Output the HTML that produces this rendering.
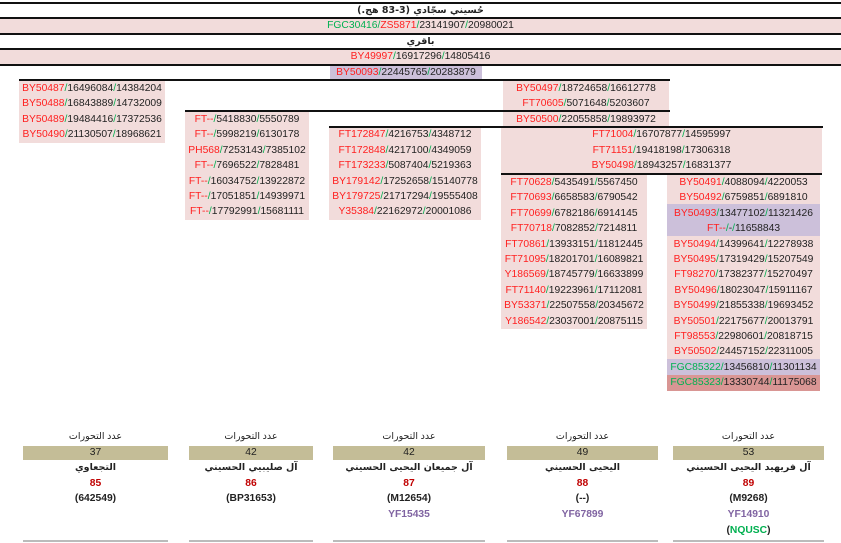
<!DOCTYPE html>
<html><head><meta charset="utf-8"><style>
body{margin:0;width:841px;height:543px;background:#fff;position:relative;overflow:hidden;font-family:"Liberation Sans","DejaVu Sans",sans-serif;font-size:10.3px;color:#222}
.b{position:absolute}
.r{position:absolute;text-align:center;height:15.4px;line-height:15.4px;white-space:nowrap}
.k{color:#ff2020}.g{color:#00b050}.p{color:#8064a2}
.pk{background:#f2dcdb}.pu{background:#ccc0da}.dr{background:#d99694}
.ln{position:absolute;height:2px;background:#111}
.ar{font-family:"DejaVu Sans",sans-serif;font-weight:bold;font-size:9.5px}
.bt{position:absolute;text-align:center;white-space:nowrap}
</style></head><body>
<div class="ln" style="left:0;width:841px;top:2px"></div>
<div class="r ar" style="left:0;width:841px;top:3px">حُسيني سجّادي (3-83 هج.)</div>
<div class="ln" style="left:0;width:841px;top:17px"></div>
<div class="r pk" style="left:0;width:841px;top:19px;height:14px;line-height:14px"><span class="g">FGC30416</span><span class="g">/</span><span class="k">ZS5871</span><span class="g">/</span>23141907<span class="g">/</span>20980021</div>
<div class="ln" style="left:0;width:841px;top:33px"></div>
<div class="r ar" style="left:0;width:841px;top:34px">باقري</div>
<div class="ln" style="left:0;width:841px;top:48px"></div>
<div class="r pk" style="left:0;width:841px;top:50px;height:14px;line-height:14px"><span class="k">BY49997</span><span class="g">/</span>16917296<span class="g">/</span>14805416</div>
<div class="ln" style="left:0;width:841px;top:64px"></div>
<div class="r pu" style="left:330px;width:152px;top:66px;height:14px;line-height:14px"><span class="k">BY50093</span><span class="g">/</span>22445765<span class="g">/</span>20283879</div>
<div class="ln" style="left:19px;width:651px;top:79px"></div>

<div class="b pk" style="left:19px;width:146px;top:81px;height:62px"></div>
<div class="r" style="left:19px;width:146px;top:81px"><span class="k">BY50487</span><span class="g">/</span>16496084<span class="g">/</span>14384204</div>
<div class="r" style="left:19px;width:146px;top:96.4px"><span class="k">BY50488</span><span class="g">/</span>16843889<span class="g">/</span>14732009</div>
<div class="r" style="left:19px;width:146px;top:111.8px"><span class="k">BY50489</span><span class="g">/</span>19484416<span class="g">/</span>17372536</div>
<div class="r" style="left:19px;width:146px;top:127.2px"><span class="k">BY50490</span><span class="g">/</span>21130507<span class="g">/</span>18968621</div>

<div class="b pk" style="left:503px;width:166px;top:81px;height:46px"></div>
<div class="r" style="left:503px;width:166px;top:81px"><span class="k">BY50497</span><span class="g">/</span>18724658<span class="g">/</span>16612778</div>
<div class="r" style="left:503px;width:166px;top:96.4px"><span class="k">FT70605</span><span class="g">/</span>5071648<span class="g">/</span>5203607</div>
<div class="r" style="left:503px;width:166px;top:111.8px"><span class="k">BY50500</span><span class="g">/</span>22055858<span class="g">/</span>19893972</div>
<div class="ln" style="left:185px;width:485px;top:110px"></div>

<div class="b pk" style="left:185px;width:124px;top:112px;height:108px"></div>
<div class="r" style="left:185px;width:124px;top:112px"><span class="k">FT--</span><span class="g">/</span>5418830<span class="g">/</span>5550789</div>
<div class="r" style="left:185px;width:124px;top:127.4px"><span class="k">FT--</span><span class="g">/</span>5998219<span class="g">/</span>6130178</div>
<div class="r" style="left:185px;width:124px;top:142.8px"><span class="k">PH568</span><span class="g">/</span>7253143<span class="g">/</span>7385102</div>
<div class="r" style="left:185px;width:124px;top:158.2px"><span class="k">FT--</span><span class="g">/</span>7696522<span class="g">/</span>7828481</div>
<div class="r" style="left:185px;width:124px;top:173.6px"><span class="k">FT--</span><span class="g">/</span>16034752<span class="g">/</span>13922872</div>
<div class="r" style="left:185px;width:124px;top:189px"><span class="k">FT--</span><span class="g">/</span>17051851<span class="g">/</span>14939971</div>
<div class="r" style="left:185px;width:124px;top:204.4px"><span class="k">FT--</span><span class="g">/</span>17792991<span class="g">/</span>15681111</div>
<div class="ln" style="left:329px;width:494px;top:126px"></div>

<div class="b pk" style="left:329px;width:152px;top:128px;height:92px"></div>
<div class="r" style="left:329px;width:152px;top:127.4px"><span class="k">FT172847</span><span class="g">/</span>4216753<span class="g">/</span>4348712</div>
<div class="r" style="left:329px;width:152px;top:142.8px"><span class="k">FT172848</span><span class="g">/</span>4217100<span class="g">/</span>4349059</div>
<div class="r" style="left:329px;width:152px;top:158.2px"><span class="k">FT173233</span><span class="g">/</span>5087404<span class="g">/</span>5219363</div>
<div class="r" style="left:329px;width:152px;top:173.6px"><span class="k">BY179142</span><span class="g">/</span>17252658<span class="g">/</span>15140778</div>
<div class="r" style="left:329px;width:152px;top:189px"><span class="k">BY179725</span><span class="g">/</span>21717294<span class="g">/</span>19555408</div>
<div class="r" style="left:329px;width:152px;top:204.4px"><span class="k">Y35384</span><span class="g">/</span>22162972<span class="g">/</span>20001086</div>

<div class="b pk" style="left:501px;width:321px;top:128px;height:46px"></div>
<div class="r" style="left:501px;width:321px;top:127.4px"><span class="k">FT71004</span><span class="g">/</span>16707877<span class="g">/</span>14595997</div>
<div class="r" style="left:501px;width:321px;top:142.8px"><span class="k">FT71151</span><span class="g">/</span>19418198<span class="g">/</span>17306318</div>
<div class="r" style="left:501px;width:321px;top:158.2px"><span class="k">BY50498</span><span class="g">/</span>18943257<span class="g">/</span>16831377</div>
<div class="ln" style="left:501px;width:321px;top:173px"></div>

<div class="b pk" style="left:501px;width:146px;top:175px;height:154px"></div>
<div class="r" style="left:501px;width:146px;top:175px"><span class="k">FT70628</span><span class="g">/</span>5435491<span class="g">/</span>5567450</div>
<div class="r" style="left:501px;width:146px;top:190.4px"><span class="k">FT70693</span><span class="g">/</span>6658583<span class="g">/</span>6790542</div>
<div class="r" style="left:501px;width:146px;top:205.8px"><span class="k">FT70699</span><span class="g">/</span>6782186<span class="g">/</span>6914145</div>
<div class="r" style="left:501px;width:146px;top:221.2px"><span class="k">FT70718</span><span class="g">/</span>7082852<span class="g">/</span>7214811</div>
<div class="r" style="left:501px;width:146px;top:236.6px"><span class="k">FT70861</span><span class="g">/</span>13933151<span class="g">/</span>11812445</div>
<div class="r" style="left:501px;width:146px;top:252px"><span class="k">FT71095</span><span class="g">/</span>18201701<span class="g">/</span>16089821</div>
<div class="r" style="left:501px;width:146px;top:267.4px"><span class="k">Y186569</span><span class="g">/</span>18745779<span class="g">/</span>16633899</div>
<div class="r" style="left:501px;width:146px;top:282.8px"><span class="k">FT71140</span><span class="g">/</span>19223961<span class="g">/</span>17112081</div>
<div class="r" style="left:501px;width:146px;top:298.2px"><span class="k">BY53371</span><span class="g">/</span>22507558<span class="g">/</span>20345672</div>
<div class="r" style="left:501px;width:146px;top:313.6px"><span class="k">Y186542</span><span class="g">/</span>23037001<span class="g">/</span>20875115</div>

<div class="b pk" style="left:667px;width:153px;top:175px;height:216px"></div>
<div class="b pu" style="left:667px;width:153px;top:204px;height:32px"></div>
<div class="b pu" style="left:667px;width:153px;top:359px;height:16px"></div>
<div class="b dr" style="left:667px;width:153px;top:375px;height:16px"></div>
<div class="r" style="left:667px;width:153px;top:175px"><span class="k">BY50491</span><span class="g">/</span>4088094<span class="g">/</span>4220053</div>
<div class="r" style="left:667px;width:153px;top:190.4px"><span class="k">BY50492</span><span class="g">/</span>6759851<span class="g">/</span>6891810</div>
<div class="r" style="left:667px;width:153px;top:205.8px"><span class="k">BY50493</span><span class="g">/</span>13477102<span class="g">/</span>11321426</div>
<div class="r" style="left:667px;width:153px;top:221.2px"><span class="k">FT--</span><span class="g">/</span>-<span class="g">/</span>11658843</div>
<div class="r" style="left:667px;width:153px;top:236.6px"><span class="k">BY50494</span><span class="g">/</span>14399641<span class="g">/</span>12278938</div>
<div class="r" style="left:667px;width:153px;top:252px"><span class="k">BY50495</span><span class="g">/</span>17319429<span class="g">/</span>15207549</div>
<div class="r" style="left:667px;width:153px;top:267.4px"><span class="k">FT98270</span><span class="g">/</span>17382377<span class="g">/</span>15270497</div>
<div class="r" style="left:667px;width:153px;top:282.8px"><span class="k">BY50496</span><span class="g">/</span>18023047<span class="g">/</span>15911167</div>
<div class="r" style="left:667px;width:153px;top:298.2px"><span class="k">BY50499</span><span class="g">/</span>21855338<span class="g">/</span>19693452</div>
<div class="r" style="left:667px;width:153px;top:313.6px"><span class="k">BY50501</span><span class="g">/</span>22175677<span class="g">/</span>20013791</div>
<div class="r" style="left:667px;width:153px;top:329px"><span class="k">FT98553</span><span class="g">/</span>22980601<span class="g">/</span>20818715</div>
<div class="r" style="left:667px;width:153px;top:344.4px"><span class="k">BY50502</span><span class="g">/</span>24457152<span class="g">/</span>22311005</div>
<div class="r" style="left:667px;width:153px;top:359.8px"><span class="g">FGC85322/</span>13456810<span class="g">/</span>11301134</div>
<div class="r" style="left:667px;width:153px;top:375.2px"><span class="g">FGC85323/</span>13330744<span class="g">/</span>11175068</div>

<div style="position:absolute;left:23px;top:431px;width:145px">
 <div class="bt" style="left:0;width:100%;top:0;font-size:9.5px">عدد التحورات</div>
 <div class="bt" style="left:0;width:100%;top:15px;height:14px;line-height:14px;background:#c4bd97">37</div>
 <div class="bt ar" style="left:0;width:100%;top:31px">التجعاوي</div>
 <div class="bt" style="left:0;width:100%;top:47px;color:#c00000;font-weight:bold">85</div>
 <div class="bt" style="left:0;width:100%;top:62px;font-weight:bold">(642549)</div>
 <div class="b" style="left:0;width:100%;top:109px;height:2px;background:#bbb"></div>
</div>
<div style="position:absolute;left:189px;top:431px;width:124px">
 <div class="bt" style="left:0;width:100%;top:0;font-size:9.5px">عدد التحورات</div>
 <div class="bt" style="left:0;width:100%;top:15px;height:14px;line-height:14px;background:#c4bd97">42</div>
 <div class="bt ar" style="left:0;width:100%;top:31px">آل صليبيي الحسيني</div>
 <div class="bt" style="left:0;width:100%;top:47px;color:#c00000;font-weight:bold">86</div>
 <div class="bt" style="left:0;width:100%;top:62px;font-weight:bold">(BP31653)</div>
 <div class="b" style="left:0;width:100%;top:109px;height:2px;background:#bbb"></div>
</div>
<div style="position:absolute;left:333px;top:431px;width:152px">
 <div class="bt" style="left:0;width:100%;top:0;font-size:9.5px">عدد التحورات</div>
 <div class="bt" style="left:0;width:100%;top:15px;height:14px;line-height:14px;background:#c4bd97">42</div>
 <div class="bt ar" style="left:0;width:100%;top:31px">آل جميعان اليحيى الحسيني</div>
 <div class="bt" style="left:0;width:100%;top:47px;color:#c00000;font-weight:bold">87</div>
 <div class="bt" style="left:0;width:100%;top:62px;font-weight:bold">(M12654)</div>
 <div class="bt p" style="left:0;width:100%;top:78px;font-weight:bold">YF15435</div>
 <div class="b" style="left:0;width:100%;top:109px;height:2px;background:#bbb"></div>
</div>
<div style="position:absolute;left:507px;top:431px;width:151px">
 <div class="bt" style="left:0;width:100%;top:0;font-size:9.5px">عدد التحورات</div>
 <div class="bt" style="left:0;width:100%;top:15px;height:14px;line-height:14px;background:#c4bd97">49</div>
 <div class="bt ar" style="left:0;width:100%;top:31px">اليحيى الحسيني</div>
 <div class="bt" style="left:0;width:100%;top:47px;color:#c00000;font-weight:bold">88</div>
 <div class="bt" style="left:0;width:100%;top:62px;font-weight:bold">(--)</div>
 <div class="bt p" style="left:0;width:100%;top:78px;font-weight:bold">YF67899</div>
 <div class="b" style="left:0;width:100%;top:109px;height:2px;background:#bbb"></div>
</div>
<div style="position:absolute;left:673px;top:431px;width:151px">
 <div class="bt" style="left:0;width:100%;top:0;font-size:9.5px">عدد التحورات</div>
 <div class="bt" style="left:0;width:100%;top:15px;height:14px;line-height:14px;background:#c4bd97">53</div>
 <div class="bt ar" style="left:0;width:100%;top:31px">آل فريهيد اليحيى الحسيني</div>
 <div class="bt" style="left:0;width:100%;top:47px;color:#c00000;font-weight:bold">89</div>
 <div class="bt" style="left:0;width:100%;top:62px;font-weight:bold">(M9268)</div>
 <div class="bt p" style="left:0;width:100%;top:78px;font-weight:bold">YF14910</div>
 <div class="bt" style="left:0;width:100%;top:94px;font-weight:bold">(<span class="g">NQUSC</span>)</div>
 <div class="b" style="left:0;width:100%;top:109px;height:2px;background:#bbb"></div>
</div>
</body></html>
